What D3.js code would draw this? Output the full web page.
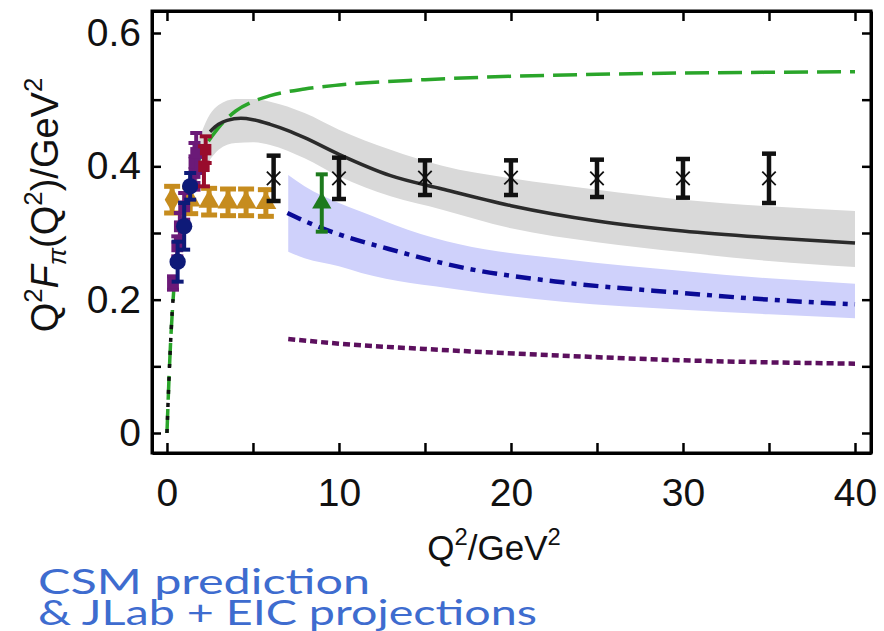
<!DOCTYPE html>
<html>
<head>
<meta charset="utf-8">
<script src="https://d3js.org/d3.v7.min.js"></script>
<style>
  body { margin: 0; background: #fff; }
  svg { display: block; }
</style>
</head>
<body>
<div id="chart"></div>
<script>
// pion form factor, Q^2 F_pi(Q^2) vs Q^2
const WIDTH = 884, HEIGHT = 631;
const frame = {left: 152, right: 871, top: 11, bottom: 453};

// curves: [Q2, value]
const greenCurve = [[0, 0], [0.1, 0.07], [0.2, 0.13], [0.4, 0.216], [0.7, 0.29], [1, 0.335], [1.5, 0.385],
  [2, 0.418], [3, 0.458], [4, 0.483], [5, 0.497], [6, 0.506], [8, 0.516], [10, 0.522], [15, 0.53],
  [20, 0.535], [25, 0.538], [30, 0.54], [35, 0.541], [40, 0.542]];
const blackLow = [[0, 0], [0.1, 0.07], [0.2, 0.13], [0.3, 0.18], [0.4, 0.216]];
const blackCurve = [[2.5, 0.452], [3, 0.463], [3.5, 0.469], [4.3, 0.472], [5, 0.47], [6, 0.463], [7, 0.454],
  [8, 0.443], [10, 0.418], [13, 0.386], [16, 0.366], [20, 0.341], [25, 0.318], [30, 0.303], [35, 0.293], [40, 0.285]];
const grayUpper = [[1.5, 0.41], [2, 0.45], [2.5, 0.478], [3, 0.492], [4, 0.501], [5, 0.501], [6, 0.497], [8, 0.48],
  [10, 0.455], [13, 0.425], [16, 0.401], [20, 0.382], [25, 0.365], [30, 0.35], [35, 0.34], [40, 0.333]];
const grayLower = [[1.5, 0.36], [2, 0.39], [2.5, 0.41], [3, 0.425], [4, 0.435], [5, 0.436], [6, 0.432], [8, 0.412],
  [10, 0.385], [13, 0.355], [16, 0.335], [20, 0.307], [25, 0.286], [30, 0.271], [35, 0.258], [40, 0.249]];
const blueUpper = [[7.05, 0.387], [8, 0.37], [10, 0.345], [11.3, 0.332], [14, 0.305], [17, 0.283], [23, 0.261],
  [30, 0.243], [35, 0.232], [40, 0.224]];
const blueLower = [[7.05, 0.272], [8, 0.262], [10, 0.25], [11.3, 0.24], [17, 0.215], [23, 0.197], [30, 0.185],
  [35, 0.178], [40, 0.172]];
const blueCurve = [[7.0, 0.33], [8, 0.318], [10, 0.298], [12.9, 0.276], [17.2, 0.248], [23, 0.226], [30, 0.21],
  [35, 0.2], [40, 0.193]];
const purpleCurve = [[7.05, 0.141], [10, 0.134], [15, 0.126], [23, 0.116], [30, 0.109], [35, 0.106], [40, 0.104]];

// data points
const eicQ2 = [6.2, 10, 15, 20, 25, 30, 35];
const eicVal = [0.382, 0.382, 0.383, 0.383, 0.382, 0.382, 0.382];
const eicErr = [0.034, 0.031, 0.026, 0.026, 0.028, 0.029, 0.037];

const goldQ2 = [0.3, 1.35, 2.45, 3.55, 4.6, 5.75];
const goldVal = [0.35, 0.349, 0.347, 0.346, 0.346, 0.345];
const goldErr = [0.02, 0.02, 0.02, 0.02, 0.02, 0.02];

const greenQ2 = [9.0];
const greenVal = [0.345];
const greenErr = [0.043];

const navyQ2 = [0.62, 1.0, 1.35];
const navyVal = [0.257, 0.31, 0.37];
const navyErr = [0.03, 0.035, 0.02];

const purpleQ2 = [0.35, 0.6, 0.75, 1.0, 1.6, 1.6, 1.7];
const purpleVal = [0.225, 0.28, 0.31, 0.34, 0.39, 0.405, 0.42];
const purpleErr = [0.01, 0.015, 0.02, 0.02, 0.025, 0.03, 0.03];

const redQ2 = [2.15, 2.25];
const redVal = [0.4, 0.425];
const redErr = [0.03, 0.02];

const xTicks = [0, 5, 10, 15, 20, 25, 30, 35, 40];
const yTicks = [0, 0.1, 0.2, 0.3, 0.4, 0.5, 0.6];

let svg = d3.select("#chart")
  .append("svg")
  .attr("width", WIDTH)
  .attr("height", HEIGHT);

let x = d3.scaleLinear().domain([-0.87, 40.93]).range([frame.left, frame.right]);
let y = d3.scaleLinear().domain([-0.03, 0.633]).range([frame.bottom, frame.top]);

svg.append("clipPath").attr("id", "clip")
  .append("rect")
  .attr("x", frame.left).attr("y", frame.top)
  .attr("width", frame.right - frame.left).attr("height", frame.bottom - frame.top);

let plot = svg.append("g").attr("clip-path", "url(#clip)");

let line = d3.line().x(d => x(d[0])).y(d => y(d[1])).curve(d3.curveMonotoneX);

function band(upper, lower, color) {
  // upper edge left->right, lower edge back right->left
  let up = line(upper);
  let lo = line(lower.slice().reverse());
  plot.append("path")
    .attr("d", up + "L" + lo.slice(1) + "Z")
    .attr("fill", color);
}

band(grayUpper, grayLower, "#d9d9d9");
band(blueUpper, blueLower, "#cfd1fb");

// theory curves
plot.append("path").datum(greenCurve).attr("d", line)
  .attr("fill", "none").attr("stroke", "#2aa52a").attr("stroke-width", 3.5)
  .attr("stroke-dasharray", "24,9");
plot.append("path").datum(blackLow).attr("d", line)
  .attr("fill", "none").attr("stroke", "#111").attr("stroke-width", 3.5)
  .attr("stroke-dasharray", "4,9");
plot.append("path").datum(blackCurve).attr("d", line)
  .attr("fill", "none").attr("stroke", "#2b2b2b").attr("stroke-width", 3.5);
plot.append("path").datum(blueCurve).attr("d", line)
  .attr("fill", "none").attr("stroke", "#0a0a96").attr("stroke-width", 4.5)
  .attr("stroke-dasharray", "15,7,5,7");
plot.append("path").datum(purpleCurve).attr("d", line)
  .attr("fill", "none").attr("stroke", "#5c105e").attr("stroke-width", 4.5)
  .attr("stroke-dasharray", "7,4");

// error bars + markers
function points(qs, vals, errs, color, symbol, size, capW, opts) {
  opts = opts || {};
  let g = plot.append("g");
  qs.forEach(function(q, i) {
    let cx = x(q), top = y(vals[i] + errs[i]), bot = y(vals[i] - errs[i]);
    g.append("line").attr("x1", cx).attr("x2", cx).attr("y1", top).attr("y2", bot)
      .attr("stroke", color).attr("stroke-width", opts.barW || 4);
    [top, bot].forEach(function(yy) {
      g.append("line").attr("x1", cx - capW / 2).attr("x2", cx + capW / 2).attr("y1", yy).attr("y2", yy)
        .attr("stroke", color).attr("stroke-width", opts.capH || 4);
    });
    let s = g.append("path")
      .attr("transform", `translate(${cx},${y(vals[i])})`)
      .attr("d", d3.symbol().type(Array.isArray(symbol) ? symbol[i] : symbol).size(size)());
    if (opts.stroke) {
      s.attr("fill", "none").attr("stroke", color).attr("stroke-width", opts.stroke);
    } else {
      s.attr("fill", color);
    }
  });
}

points(goldQ2, goldVal, goldErr, "#c68c1e",
  [d3.symbolDiamond, d3.symbolTriangle, d3.symbolTriangle, d3.symbolTriangle, d3.symbolTriangle, d3.symbolTriangle],
  190, 16, {barW: 5, capH: 5});
points(purpleQ2, purpleVal, purpleErr, "#6b1a78", d3.symbolSquare, 140, 12);
points(navyQ2, navyVal, navyErr, "#0e1a78", d3.symbolCircle, 210, 12);
points(redQ2, redVal, redErr, "#990c2c", d3.symbolSquare, 130, 12);
points(greenQ2, greenVal, greenErr, "#1d7a1d", d3.symbolTriangle, 160, 12);
points(eicQ2, eicVal, eicErr, "#111", d3.symbolTimes, 120, 14, {stroke: 1.8, barW: 4.5, capH: 4.5});

// frame and ticks
const tickFont = "Liberation Sans, Arial, sans-serif";

let xAxis = svg.append("g")
  .attr("transform", `translate(0,${frame.bottom})`)
  .call(d3.axisBottom(x).tickValues(xTicks).tickSize(-10).tickSizeOuter(0).tickPadding(25)
    .tickFormat(d => d % 10 === 0 ? d : ""));
let xAxisTop = svg.append("g")
  .attr("transform", `translate(0,${frame.top})`)
  .call(d3.axisTop(x).tickValues(xTicks).tickSize(-10).tickSizeOuter(0).tickFormat(""));
let yAxis = svg.append("g")
  .attr("transform", `translate(${frame.left},0)`)
  .call(d3.axisLeft(y).tickValues(yTicks).tickSize(-9).tickSizeOuter(0).tickPadding(11)
    .tickFormat(d => Math.round(d * 10) % 2 === 0 ? (d === 0 ? "0" : d3.format(".1f")(d)) : ""));
let yAxisRight = svg.append("g")
  .attr("transform", `translate(${frame.right},0)`)
  .call(d3.axisRight(y).tickValues(yTicks).tickSize(-9).tickSizeOuter(0).tickFormat(""));

svg.selectAll(".domain").attr("stroke", "#000").attr("stroke-width", 3);
svg.selectAll(".tick line").attr("stroke", "#000").attr("stroke-width", 2.5);
svg.selectAll(".tick text").attr("fill", "#111").style("font-family", tickFont).style("font-size", "39px");
// full frame
svg.append("rect").attr("x", frame.left).attr("y", frame.top)
  .attr("width", frame.right - frame.left).attr("height", frame.bottom - frame.top)
  .attr("fill", "none").attr("stroke", "#000").attr("stroke-width", 3);

// labels with super/subscripts
function richText(sel, parts, size) {
  parts.forEach(function(p) {
    let t = sel.append("tspan").text(p.t);
    if (p.italic) t.style("font-style", "italic");
    if (p.sup) t.attr("dy", -0.42 * size).style("font-size", (0.68 * size) + "px");
    else if (p.sub) t.attr("dy", 0.22 * size).style("font-size", (0.68 * size) + "px");
    if (p.back) t.attr("dy", p.back * size);
  });
}

let yLabel = svg.append("text")
  .attr("transform", "translate(58,205) rotate(-90)")
  .attr("text-anchor", "middle")
  .style("font-family", tickFont).style("font-size", "38px").attr("fill", "#111");
richText(yLabel, [
  {t: "Q"}, {t: "2", sup: true}, {t: "F", italic: true, back: 0.42}, {t: "π", sub: true, italic: true},
  {t: "(Q", back: -0.22}, {t: "2", sup: true}, {t: ")/GeV", back: 0.42}, {t: "2", sup: true}
], 38);

let xLabel = svg.append("text")
  .attr("x", 494).attr("y", 560)
  .attr("text-anchor", "middle")
  .style("font-family", tickFont).style("font-size", "35px").attr("fill", "#111");
richText(xLabel, [
  {t: "Q"}, {t: "2", sup: true}, {t: "/GeV", back: 0.42}, {t: "2", sup: true}
], 35);

// blue caption
const capFont = "Lato, 'Open Sans', sans-serif";
svg.append("text").attr("x", 38).attr("y", 594)
  .style("font-family", capFont).style("font-size", "34px").attr("fill", "#3e6ccf")
  .attr("textLength", 332).attr("lengthAdjust", "spacingAndGlyphs")
  .text("CSM prediction");
svg.append("text").attr("x", 38).attr("y", 625)
  .style("font-family", capFont).style("font-size", "34px").attr("fill", "#3e6ccf")
  .attr("textLength", 499).attr("lengthAdjust", "spacingAndGlyphs")
  .text("& JLab + EIC projections");
</script>
</body>
</html>
